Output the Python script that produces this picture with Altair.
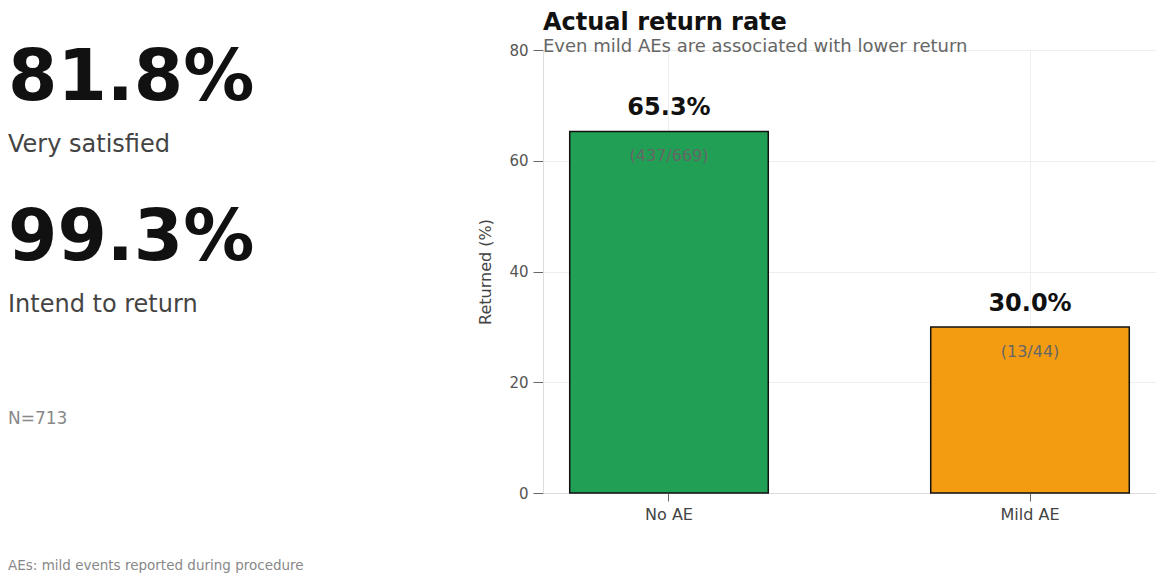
import altair as alt
import pandas as pd

# ---- data ----
categories = ["No AE", "Mild AE"]
rates = [65.3, 30.0]
rate_labels = ["65.3%", "30.0%"]
count_labels = ["(437/669)", "(13/44)"]
bar_colors = ["#21a055", "#f39c12"]

kpi_values = ["81.8%", "99.3%"]
kpi_labels = ["Very satisfied", "Intend to return"]
sample_note = "N=713"
footnote = "AEs: mild events reported during procedure"

y_ticks = [0, 20, 40, 60, 80]

FONT = "DejaVu Sans"
LEFT = -535  # left text column, relative to plot origin
TOP_PAD = 3

df = pd.DataFrame({
    "group": categories,
    "rate": rates,
    "rate_label": rate_labels,
    "count_label": count_labels,
})

x_enc = alt.X("group:N", sort=categories, title=None,
              scale=alt.Scale(paddingInner=0.45, paddingOuter=0.074),
              axis=alt.Axis(labelAngle=0, labelFontSize=16, labelColor="#444",
                            tickSize=8, tickColor="#666", labelPadding=5,
                            grid=True, gridColor="#eeeeee",
                            domainColor="#dddddd"))
y_enc = alt.Y("rate:Q", title="Returned (%)",
              scale=alt.Scale(domain=[0, 80], nice=False),
              axis=alt.Axis(values=y_ticks, labelFontSize=15, labelColor="#555",
                            tickSize=10, tickColor="#666", labelPadding=5,
                            gridColor="#eeeeee", domainColor="#dddddd",
                            titleFontSize=16, titleFontWeight="normal",
                            titleColor="#444", titlePadding=15))

base = alt.Chart(df)

bars = base.mark_bar(stroke="#111111", strokeWidth=1.5).encode(
    x=x_enc, y=y_enc,
    color=alt.Color("group:N", scale=alt.Scale(domain=categories, range=bar_colors),
                    legend=None),
)

top_labels = base.mark_text(fontSize=24, fontWeight="bold", color="#111111",
                            baseline="alphabetic", dy=-16).encode(
    x=alt.X("group:N", sort=categories), y="rate:Q", text="rate_label:N")

count_text = base.mark_text(fontSize=16, color="#666666",
                            baseline="middle", dy=25).encode(
    x=alt.X("group:N", sort=categories), y="rate:Q", text="count_label:N")


def side_text(value, y, size, weight, color):
    return alt.Chart(pd.DataFrame({"t": [value]})).mark_text(
        align="left", baseline="alphabetic", fontSize=size,
        fontWeight=weight, color=color).encode(
        x=alt.value(LEFT), y=alt.value(y - TOP_PAD), text="t:N")


side = [
    side_text(kpi_values[0], 53, 71, "bold", "#111111"),
    side_text(kpi_labels[0], 105, 24, "normal", "#444444"),
    side_text(kpi_values[1], 213, 71, "bold", "#111111"),
    side_text(kpi_labels[1], 265, 24, "normal", "#444444"),
    side_text(sample_note, 377, 17, "normal", "#888888"),
    side_text(footnote, 523, 13.5, "normal", "#888888"),
]

chart = alt.layer(bars, top_labels, count_text, *side).properties(
    width=613, height=446 - TOP_PAD,
    padding={"top": TOP_PAD, "left": 0, "right": 0, "bottom": 0},
    title=alt.TitleParams(
        text="Actual return rate",
        subtitle="Even mild AEs are associated with lower return",
        anchor="start", frame="group", fontSize=24, fontWeight="bold",
        color="#111111", subtitleFontSize=18, subtitleColor="#666666",
        subtitlePadding=3, offset=-13, font=FONT, subtitleFont=FONT),
).configure(font=FONT).configure_view(stroke=None)

chart.save("out.html", embed_options={"renderer": "svg", "actions": False})
